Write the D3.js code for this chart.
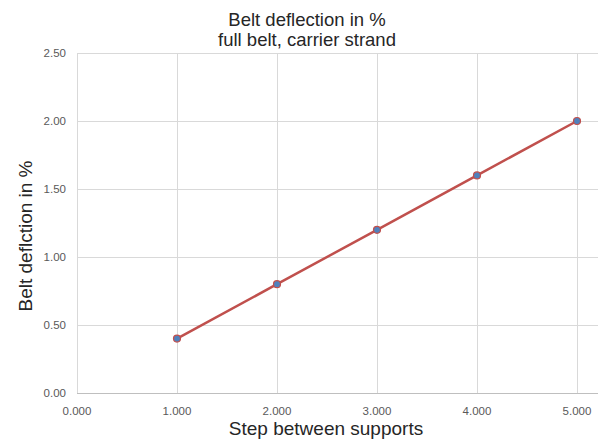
<!DOCTYPE html>
<html lang="en">
<head>
    <meta charset="UTF-8">
    <title>Belt deflection</title>
    <style>
        body { margin: 0; background: #fff; }
        svg { display: block; font-family: "Liberation Sans", Arial, sans-serif; }
    </style>
</head>
<body>
    <div id="chart"></div>
    <script src="https://cdn.jsdelivr.net/npm/d3@7"></script>
    <script>
        // data
        const steps = [1, 2, 3, 4, 5];
        const deflection = [0.4, 0.8, 1.2, 1.6, 2.0];
        const xTicks = [0, 1, 2, 3, 4, 5];
        const yTicks = [0, 0.5, 1.0, 1.5, 2.0, 2.5];

        const width = 598;
        const height = 439;
        const marginLeft = 77;
        const marginRight = 1;
        const marginTop = 53;
        const marginBottom = 46;

        const x = d3.scaleLinear()
            .domain([0, 5.2])
            .range([marginLeft, marginLeft + 520]);

        const y = d3.scaleLinear()
            .domain([0, 2.5])
            .range([height - marginBottom, marginTop]);

        const svg = d3.select("#chart").append("svg")
            .attr("width", width)
            .attr("height", height)
            .attr("viewBox", [0, 0, width, height]);

        // horizontal grid
        svg.append("g")
            .attr("stroke", "#d9d9d9")
            .attr("stroke-width", 1)
            .selectAll("line")
            .data(yTicks.slice(1))
            .join("line")
            .attr("x1", marginLeft)
            .attr("x2", width)
            .attr("y1", d => Math.round(y(d)) + 0.5)
            .attr("y2", d => Math.round(y(d)) + 0.5);

        // vertical grid
        svg.append("g")
            .attr("stroke", "#d9d9d9")
            .attr("stroke-width", 1)
            .selectAll("line")
            .data(xTicks)
            .join("line")
            .attr("x1", d => Math.round(x(d)) + 0.5)
            .attr("x2", d => Math.round(x(d)) + 0.5)
            .attr("y1", marginTop)
            .attr("y2", y(0));

        // bottom axis line
        svg.append("line")
            .attr("stroke", "#bfbfbf")
            .attr("x1", marginLeft)
            .attr("x2", width)
            .attr("y1", Math.round(y(0)) + 0.5)
            .attr("y2", Math.round(y(0)) + 0.5);

        // y tick labels
        svg.append("g")
            .attr("fill", "#595959")
            .attr("font-size", 11.5)
            .attr("text-anchor", "end")
            .selectAll("text")
            .data(yTicks)
            .join("text")
            .attr("x", 66)
            .attr("y", d => y(d))
            .attr("dy", "0.35em")
            .text(d => d3.format(".2f")(d));

        // x tick labels
        svg.append("g")
            .attr("fill", "#595959")
            .attr("font-size", 11.5)
            .attr("text-anchor", "middle")
            .selectAll("text")
            .data(xTicks)
            .join("text")
            .attr("x", d => x(d))
            .attr("y", 411)
            .attr("dy", "0.35em")
            .text(d => d3.format(".3f")(d));

        // series line
        const line = d3.line()
            .x((d, i) => x(steps[i]))
            .y(d => y(d));

        svg.append("path")
            .datum(deflection)
            .attr("fill", "none")
            .attr("stroke", "#c0504d")
            .attr("stroke-width", 2.5)
            .attr("d", line);

        // markers
        svg.append("g")
            .selectAll("circle")
            .data(deflection)
            .join("circle")
            .attr("cx", (d, i) => x(steps[i]))
            .attr("cy", d => y(d))
            .attr("r", 3.5)
            .attr("fill", "#4f81bd")
            .attr("stroke", "#c0504d")
            .attr("stroke-width", 1.2);

        // titles
        svg.append("text")
            .attr("x", 307)
            .attr("y", 26)
            .attr("text-anchor", "middle")
            .attr("font-size", 18.5)
            .attr("fill", "#262626")
            .text("Belt deflection in %");

        svg.append("text")
            .attr("x", 307)
            .attr("y", 46)
            .attr("text-anchor", "middle")
            .attr("font-size", 18.5)
            .attr("fill", "#262626")
            .text("full belt, carrier strand");

        svg.append("text")
            .attr("x", 326)
            .attr("y", 435)
            .attr("text-anchor", "middle")
            .attr("font-size", 19)
            .attr("fill", "#262626")
            .text("Step between supports");

        svg.append("text")
            .attr("transform", "translate(32,236) rotate(-90)")
            .attr("text-anchor", "middle")
            .attr("font-size", 19)
            .attr("fill", "#262626")
            .text("Belt deflction in %");
    </script>
</body>
</html>
